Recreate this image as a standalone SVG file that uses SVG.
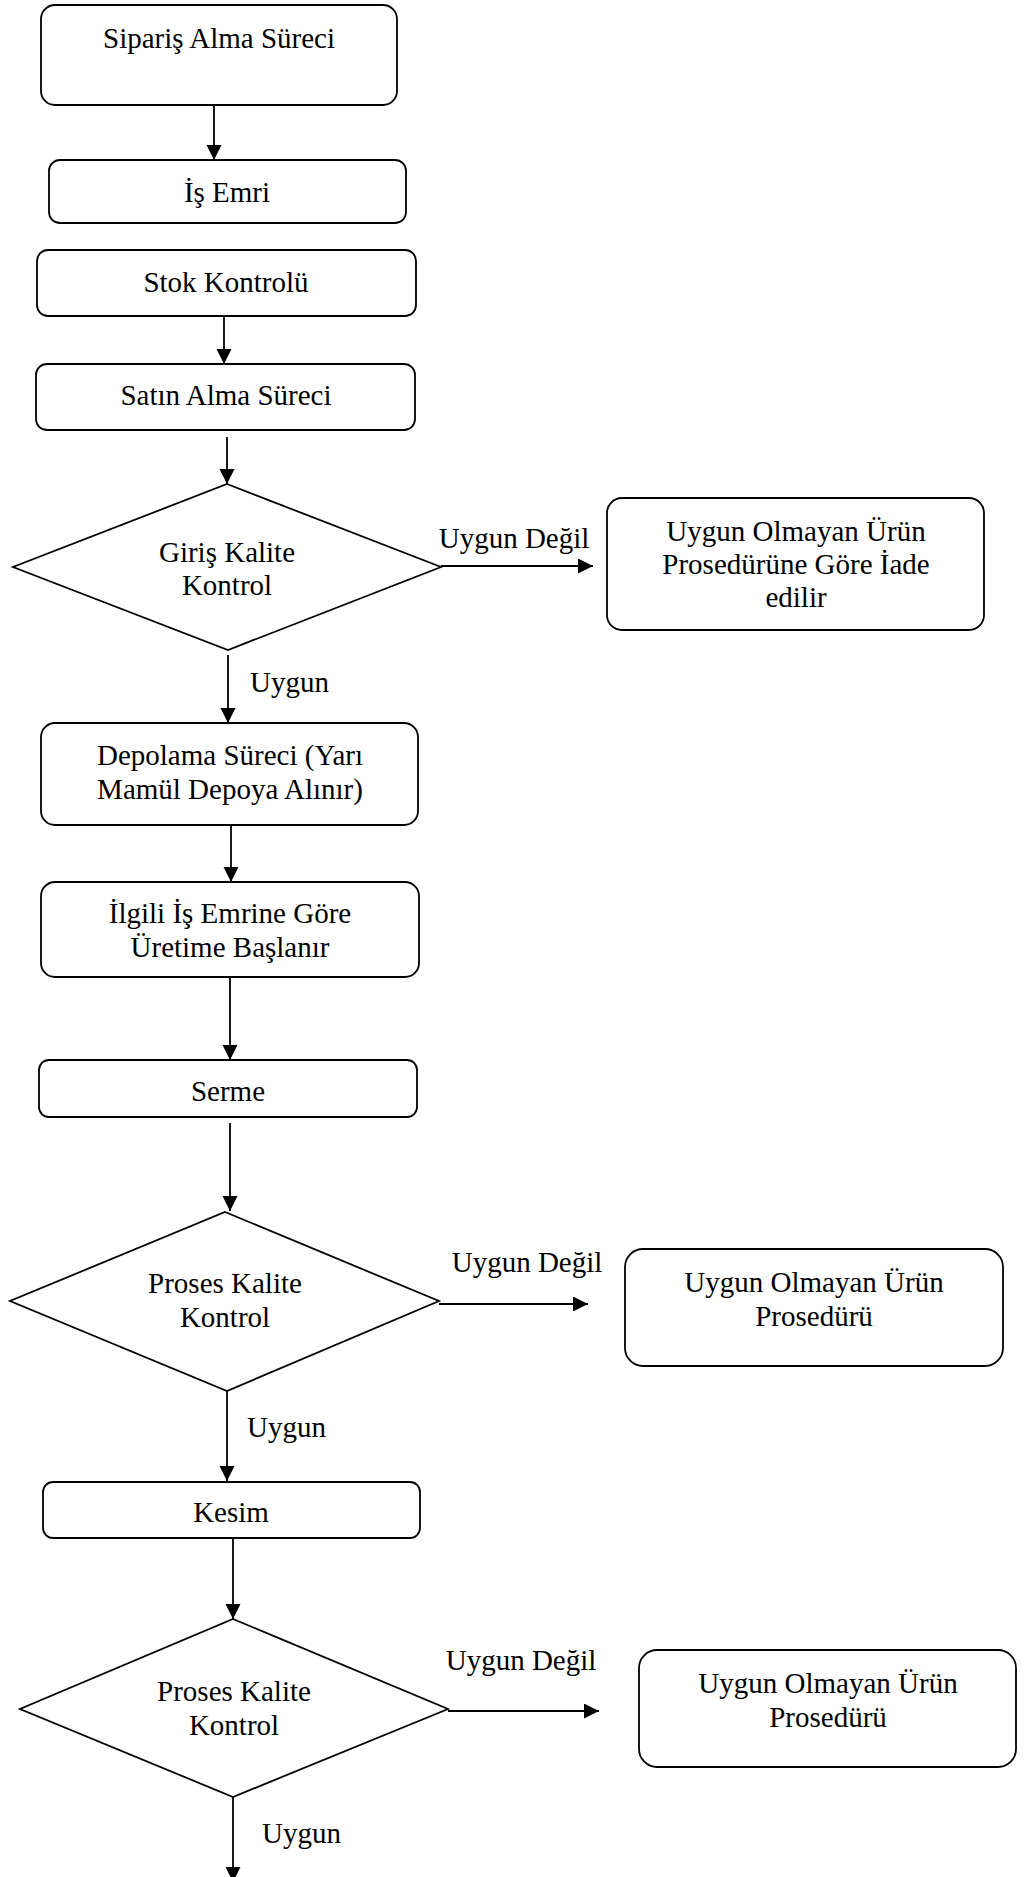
<svg xmlns="http://www.w3.org/2000/svg" width="1026" height="1877" viewBox="0 0 1026 1877">
<style>
.box{fill:#fff;stroke:#000;stroke-width:1.8}
.dia{fill:#fff;stroke:#000;stroke-width:1.8}
.ln{fill:none;stroke:#000;stroke-width:1.8;marker-end:url(#ah)}
text{font-family:"Liberation Serif","Times New Roman",serif;font-size:29px;fill:#000}
.c{text-anchor:middle}
</style>
<defs>
<marker id="ah" markerUnits="userSpaceOnUse" markerWidth="16" markerHeight="16" refX="15" refY="7.5" orient="auto">
<path d="M0,0 L15,7.5 L0,15 Z" fill="#000"/>
</marker>
</defs>
<rect width="1026" height="1877" fill="#fff"/>
<g id="connectors">
<line class="ln" x1="214" y1="106" x2="214" y2="160"/>
<line class="ln" x1="224" y1="317" x2="224" y2="364"/>
<line class="ln" x1="227" y1="437" x2="227" y2="484"/>
<line class="ln" x1="441" y1="566" x2="593" y2="566"/>
<line class="ln" x1="228" y1="655" x2="228" y2="723"/>
<line class="ln" x1="231" y1="826" x2="231" y2="882"/>
<line class="ln" x1="230" y1="978" x2="230" y2="1060"/>
<line class="ln" x1="230" y1="1123" x2="230" y2="1211"/>
<line class="ln" x1="439" y1="1304" x2="588" y2="1304"/>
<line class="ln" x1="227" y1="1391" x2="227" y2="1481"/>
<line class="ln" x1="233" y1="1538" x2="233" y2="1619"/>
<line class="ln" x1="448" y1="1711" x2="599" y2="1711"/>
<line class="ln" x1="233" y1="1797" x2="233" y2="1882"/>
<text x="514" y="548" class="c">Uygun Değil</text>
<text x="250" y="692">Uygun</text>
<text x="527" y="1272" class="c">Uygun Değil</text>
<text x="247" y="1437">Uygun</text>
<text x="521" y="1670" class="c">Uygun Değil</text>
<text x="262" y="1843">Uygun</text>
</g>
<g id="siparis">
<rect class="box" x="41" y="5" width="356" height="100" rx="14"/>
<text x="219" y="48" class="c">Sipariş Alma Süreci</text>
</g>
<g id="isemri">
<rect class="box" x="49" y="160" width="357" height="63" rx="11"/>
<text x="227" y="202" class="c">İş Emri</text>
</g>
<g id="stok">
<rect class="box" x="37" y="250" width="379" height="66" rx="11"/>
<text x="226" y="292" class="c">Stok Kontrolü</text>
</g>
<g id="satinalma">
<rect class="box" x="36" y="364" width="379" height="66" rx="11"/>
<text x="226" y="405" class="c">Satın Alma Süreci</text>
</g>
<g id="giris">
<polygon class="dia" points="227,484 441,567 228,650 13,567"/>
<text x="227" y="562" class="c">Giriş Kalite</text>
<text x="227" y="595" class="c">Kontrol</text>
</g>
<g id="iade">
<rect class="box" x="607" y="498" width="377" height="132" rx="15"/>
<text x="796" y="541" class="c">Uygun Olmayan Ürün</text>
<text x="796" y="574" class="c">Prosedürüne Göre İade</text>
<text x="796" y="607" class="c">edilir</text>
</g>
<g id="depolama">
<rect class="box" x="41" y="723" width="377" height="102" rx="14"/>
<text x="230" y="765" class="c">Depolama Süreci (Yarı</text>
<text x="230" y="799" class="c">Mamül Depoya Alınır)</text>
</g>
<g id="uretim">
<rect class="box" x="41" y="882" width="378" height="95" rx="14"/>
<text x="230" y="923" class="c">İlgili İş Emrine Göre</text>
<text x="230" y="957" class="c">Üretime Başlanır</text>
</g>
<g id="serme">
<rect class="box" x="39" y="1060" width="378" height="57" rx="10"/>
<text x="228" y="1101" class="c">Serme</text>
</g>
<g id="proses1">
<polygon class="dia" points="225,1212 439,1301 227,1391 10,1301"/>
<text x="225" y="1293" class="c">Proses Kalite</text>
<text x="225" y="1327" class="c">Kontrol</text>
</g>
<g id="uygunsuz1">
<rect class="box" x="625" y="1249" width="378" height="117" rx="18"/>
<text x="814" y="1292" class="c">Uygun Olmayan Ürün</text>
<text x="814" y="1326" class="c">Prosedürü</text>
</g>
<g id="kesim">
<rect class="box" x="43" y="1482" width="377" height="56" rx="10"/>
<text x="231" y="1522" class="c">Kesim</text>
</g>
<g id="proses2">
<polygon class="dia" points="233,1619 448,1709 233,1797 20,1709"/>
<text x="234" y="1701" class="c">Proses Kalite</text>
<text x="234" y="1735" class="c">Kontrol</text>
</g>
<g id="uygunsuz2">
<rect class="box" x="639" y="1650" width="377" height="117" rx="18"/>
<text x="828" y="1693" class="c">Uygun Olmayan Ürün</text>
<text x="828" y="1727" class="c">Prosedürü</text>
</g>
</svg>
